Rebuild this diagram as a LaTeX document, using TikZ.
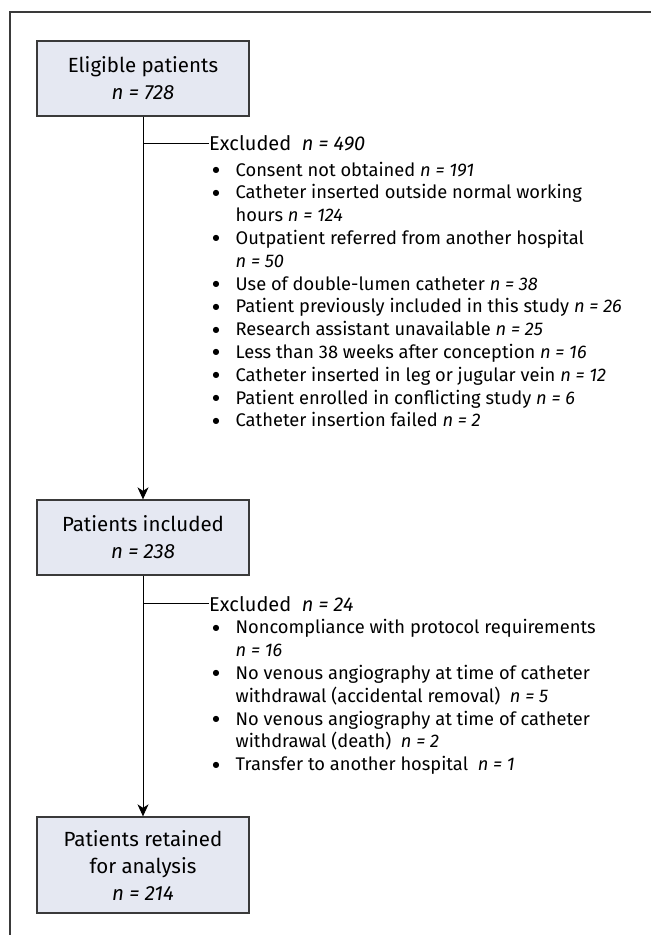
\documentclass[tikz,border=0pt]{standalone}
\usepackage{fontspec}
\setmainfont{Fira Sans}
\newfontfamily\dejavu{DejaVu Sans}
\usetikzlibrary{arrows.meta}
\definecolor{boxfill}{HTML}{E5E8F2}
\definecolor{linegray}{HTML}{3A3A3A}
\newcommand{\nn}[1]{\textit{n = #1}}
\newcommand{\bul}{\raisebox{3.6pt}{\dejavu\fontsize{8}{8}\selectfont ●}}
\begin{document}
\begin{tikzpicture}[x=1pt,y=-1pt,
  stagebox/.style={draw=linegray, line width=1.3pt, fill=boxfill, minimum width=212pt, inner sep=0pt, align=center, font=\fontsize{20.5}{27}\selectfont},
  listtext/.style={anchor=base west, inner sep=0pt, font=\fontsize{18.3}{22.8}\selectfont},
  conn/.style={draw=black, line width=1pt},
  arr/.style={conn, -{Stealth[length=12pt,width=11pt,inset=3.5pt]}}
]
\useasboundingbox (0,0) rectangle (651,935);
\draw[linegray, line width=1.5pt] (10,935) -- (10,12) -- (651,12);

\node[stagebox, minimum height=75pt] (b1) at (143,78.5) {Eligible patients\\\nn{728}};
\node[stagebox, minimum height=75pt] (b2) at (143,537.5) {Patients included\\\nn{238}};
\node[stagebox, minimum height=96pt] (b3) at (143,865) {Patients retained\\for analysis\\\nn{214}};

\draw[arr] (b1) -- (b2);
\draw[arr] (b2) -- (b3);

\node[listtext] (ex1) at (209,150) {\begin{tabular}[t]{@{\hspace{3.5pt}}l@{\hspace{16pt}}l@{}}
\multicolumn{2}{@{}l@{}}{\fontsize{20}{22.8}\selectfont Excluded\ \ \nn{490}}\\[3.2pt]
\bul & Consent not obtained \nn{191}\\
\bul & Catheter inserted outside normal working\\
 & hours \nn{124}\\
\bul & Outpatient referred from another hospital\\
 & \nn{50}\\
\bul & Use of double-lumen catheter \nn{38}\\
\bul & Patient previously included in this study \nn{26}\\
\bul & Research assistant unavailable \nn{25}\\
\bul & Less than 38 weeks after conception \nn{16}\\
\bul & Catheter inserted in leg or jugular vein \nn{12}\\
\bul & Patient enrolled in conflicting study \nn{6}\\
\bul & Catheter insertion failed \nn{2}
\end{tabular}};

\node[listtext] (ex2) at (209,611) {\begin{tabular}[t]{@{\hspace{3.5pt}}l@{\hspace{16pt}}l@{}}
\multicolumn{2}{@{}l@{}}{\fontsize{20}{22.8}\selectfont Excluded\ \ \nn{24}}\\[0pt]
\bul & Noncompliance with protocol requirements\\
 & \nn{16}\\
\bul & No venous angiography at time of catheter\\
 & withdrawal (accidental removal)\ \ \nn{5}\\
\bul & No venous angiography at time of catheter\\
 & withdrawal (death)\ \ \nn{2}\\
\bul & Transfer to another hospital\ \ \nn{1}
\end{tabular}};

\coordinate (j1) at (143,143);
\coordinate (j2) at (143,603);
\draw[conn] (j1) -- (j1 -| ex1.west);
\draw[conn] (j2) -- (j2 -| ex2.west);
\end{tikzpicture}
\end{document}
